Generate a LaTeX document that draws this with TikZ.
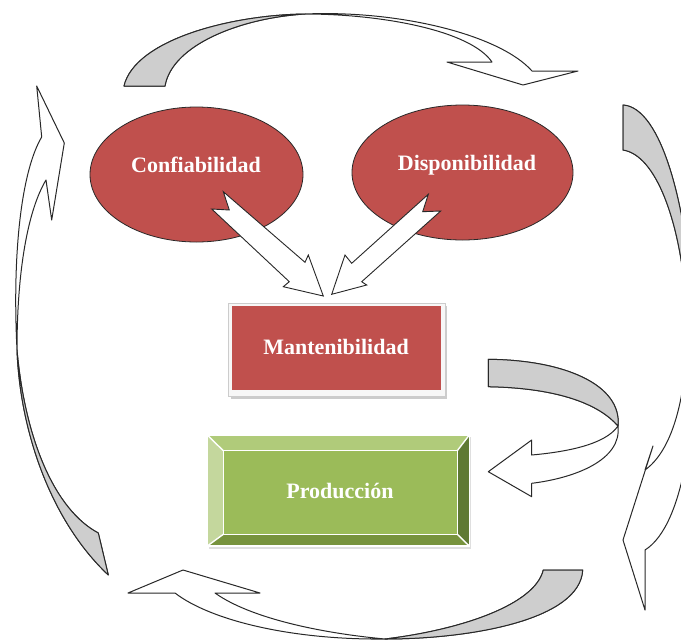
\documentclass[tikz,border=0pt]{standalone}
\usepackage{fontspec}
\setmainfont{Liberation Serif}
\usetikzlibrary{shapes.geometric}

\definecolor{boxred}{RGB}{192,80,77}
\definecolor{ribbon}{RGB}{206,206,206}
\definecolor{greenface}{RGB}{155,187,89}
\definecolor{bevtop}{RGB}{176,203,122}
\definecolor{bevleft}{RGB}{196,215,157}
\definecolor{bevright}{RGB}{95,121,52}
\definecolor{bevbottom}{RGB}{119,147,61}
\definecolor{outline}{RGB}{40,40,40}

\tikzset{
  lbl/.style={text=white, font=\fontsize{22}{26}\selectfont\bfseries, inner sep=0pt},
  redell/.style={ellipse, draw=outline, line width=0.8pt, fill=boxred, inner sep=0pt},
  blockarrow/.style={draw=outline, fill=white, line width=0.9pt, line join=miter},
  curvedarrow/.style={draw=outline, fill=white, line width=1pt, line join=round},
  backside/.style={draw=outline, fill=ribbon, line width=1pt, line join=round},
  bevline/.style={draw=white, line width=1.4pt},
}

\begin{document}
\begin{tikzpicture}[x=1pt,y=-1pt]
\useasboundingbox (0,0) rectangle (681,641);

% ---- the two source ellipses ----
\node[redell, minimum width=213pt, minimum height=135pt] (conf) at (196.5,174.5) {};
\node[redell, minimum width=221pt, minimum height=135pt] (disp) at (462.5,172.5) {};
\node[lbl] (conftext) at (196,165) {Confiabilidad};
\node[lbl] (disptext) at (467,165) {Disponibilidad};

% ---- notched block arrows into the middle box ----
\draw[blockarrow] (223.3,191.7) -- (229.3,210) -- (211.7,209) -- (289.3,281.7)
  -- (283.3,286.7) -- (323.3,296) -- (308.3,255) -- (305,262.3) -- cycle;
\draw[blockarrow] (428.3,194.3) -- (422.7,211.7) -- (440.7,211) -- (361.7,281.7)
  -- (366.7,285) -- (331.7,294.3) -- (345,255) -- (351.7,263.3) -- cycle;

% ---- Mantenibilidad box with frame and shadow ----
\fill[gray!40] (230.5,305.5) rectangle (447,398.5);
\filldraw[fill=gray!6, draw=gray!40, line width=0.5pt] (228.3,303.3) rectangle (445,396);
\node[fill=boxred, minimum width=209pt, minimum height=84pt, inner sep=0pt] (mant) at (336.2,348) {};
\node[lbl] (manttext) at (336,347) {Mantenibilidad};

% ---- Producción bevelled box ----
\coordinate (po1) at (207.3,435);   \coordinate (po2) at (469.3,435);
\coordinate (po3) at (469.3,546);   \coordinate (po4) at (207.3,546);
\coordinate (pi1) at (223.3,450.7); \coordinate (pi2) at (457.3,450.7);
\coordinate (pi3) at (457.3,534.3); \coordinate (pi4) at (223.3,534.3);
\fill[gray!25] (208.5,437) rectangle (471,548.5);
\fill[bevtop] (po1) -- (po2) -- (pi2) -- (pi1) -- cycle;
\fill[bevleft] (po1) -- (pi1) -- (pi4) -- (po4) -- cycle;
\fill[bevright] (po2) -- (po3) -- (pi3) -- (pi2) -- cycle;
\fill[bevbottom] (po4) -- (pi4) -- (pi3) -- (po3) -- cycle;
\node[fill=greenface, minimum width=234pt, minimum height=83.6pt, inner sep=0pt] (prod) at (340.3,492.5) {};
\draw[bevline] (po1) -- (po2) -- (po3) -- (po4) -- cycle;
\draw[bevline] (pi1) -- (pi2) -- (pi3) -- (pi4) -- cycle;
\draw[bevline] (po1) -- (pi1) (po2) -- (pi2) (po3) -- (pi3) (po4) -- (pi4);
\node[lbl] (prodtext) at (340,491) {Producción};

% ---- curl from the middle box down to Producción ----
\draw[curvedarrow] (488.3,359.3) .. controls (565,360) and (622,385) .. (618,426)
  .. controls (622,460) and (575,478) .. (531.7,483.3) -- (531.7,496.7) -- (488.3,471.7)
  -- (531.7,440) -- (531.7,455) .. controls (565,452) and (605,445) .. (618,426)
  .. controls (600,405) and (560,388) .. (488.3,386.7) -- cycle;
\draw[backside] (488.3,359.3) .. controls (565,360) and (622,385) .. (618,426)
  .. controls (600,405) and (560,388) .. (488.3,386.7) -- cycle;

% ---- outer cycle: top arrow ----
\draw[curvedarrow] (124,86) .. controls (135,40) and (230,15) .. (305,14)
  .. controls (400,10) and (500,35) .. (532,71) -- (578,71) -- (523,85) -- (447,62)
  -- (492,62) .. controls (470,30) and (380,14) .. (305,14)
  .. controls (240,18) and (172,45) .. (165,86) -- cycle;
\draw[backside] (124,86) .. controls (135,40) and (230,15) .. (305,14)
  .. controls (240,18) and (172,45) .. (165,86) -- cycle;

% ---- outer cycle: right arrow ----
\draw[curvedarrow] (623,105) .. controls (700,110) and (725,500) .. (645,550)
  -- (645,610) -- (623,540) -- (653,446) -- (645,470)
  .. controls (715,420) and (690,160) .. (623,150) -- cycle;
\begin{scope}
  \clip (0,0) rectangle (681,320);
  \draw[backside] (623,105) .. controls (700,110) and (725,500) .. (645,550)
    -- (645,470) .. controls (715,420) and (690,160) .. (623,150) -- cycle;
\end{scope}

% ---- outer cycle: bottom arrow ----
\draw[curvedarrow] (582.7,570) .. controls (580,620) and (470,639) .. (385,639)
  .. controls (290,640) and (210,620) .. (175,593) -- (128,593) -- (183,570)
  -- (260,593) -- (215,593) .. controls (250,618) and (320,633) .. (385,639)
  .. controls (460,630) and (535,605) .. (543.3,570) -- cycle;
\draw[backside] (582.7,570) .. controls (580,620) and (470,639) .. (385,639)
  .. controls (460,630) and (535,605) .. (543.3,570) -- cycle;

% ---- outer cycle: left arrow ----
\draw[curvedarrow] (108.3,575) .. controls (50,520) and (20,430) .. (17,350)
  .. controls (12,250) and (22,170) .. (41.7,137) -- (36.7,86) -- (64.3,143)
  -- (51.7,220) -- (46,180) .. controls (28,210) and (17,270) .. (17,350)
  .. controls (25,440) and (55,510) .. (98.3,533) -- cycle;
\draw[backside] (108.3,575) .. controls (50,520) and (20,430) .. (17,350)
  .. controls (25,440) and (55,510) .. (98.3,533) -- cycle;
\end{tikzpicture}
\end{document}
